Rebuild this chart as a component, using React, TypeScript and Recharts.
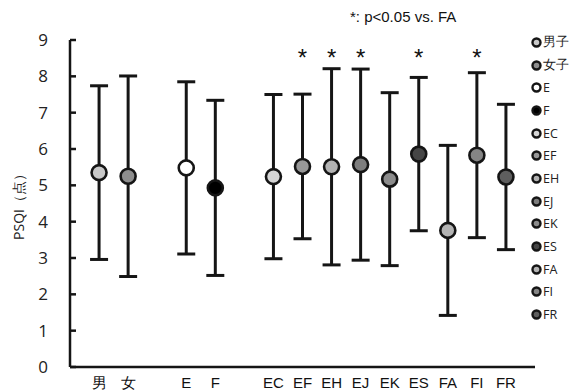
import React from 'react';
import {
  ScatterChart,
  Scatter,
  XAxis,
  YAxis,
  ErrorBar,
} from 'recharts';

// slot order on the x axis, '' = empty gap between groups
const slots = ['男', '女', '', 'E', 'F', '', 'EC', 'EF', 'EH', 'EJ', 'EK', 'ES', 'FA', 'FI', 'FR'];
const groups = ['男', '女', 'E', 'F', 'EC', 'EF', 'EH', 'EJ', 'EK', 'ES', 'FA', 'FI', 'FR'];
const legendNames = ['男子', '女子', 'E', 'F', 'EC', 'EF', 'EH', 'EJ', 'EK', 'ES', 'FA', 'FI', 'FR'];
const means = [5.35, 5.25, 5.48, 4.93, 5.24, 5.52, 5.51, 5.57, 5.17, 5.86, 3.76, 5.83, 5.23];
const sds = [2.39, 2.76, 2.37, 2.41, 2.26, 1.99, 2.7, 2.63, 2.38, 2.11, 2.34, 2.27, 2.0];
const fills = ['#c9c9c9', '#8e8e8e', '#ffffff', '#000000', '#d6d6d6', '#989898', '#b3b3b3', '#7d7d7d', '#8c8c8c', '#454545', '#b4b4b4', '#858585', '#5e5e5e'];
const starred = ['EF', 'EH', 'EJ', 'ES', 'FI'];
const yTicks = [0, 1, 2, 3, 4, 5, 6, 7, 8, 9];
const STAR_Y = 8.64;

const data = groups.map((g, i) => ({
  name: g,
  x: slots.indexOf(g),
  y: means[i],
  sd: sds[i],
  fill: fills[i],
}));

const starData = starred.map((g) => ({ x: slots.indexOf(g), y: STAR_Y }));

const Dot = (props: any) => {
  const { cx, cy, payload } = props;
  return <circle cx={cx} cy={cy} r={7.5} fill={payload.fill} stroke="#151515" strokeWidth={2.6} />;
};

const Star = (props: any) => (
  <text x={props.cx} y={props.cy + 13} textAnchor="middle" fontSize={24} fontFamily="Liberation Sans, Arial" fill="#111">
    *
  </text>
);

const YTick = (props: any) => {
  const { x, y, payload } = props;
  return (
    <g>
      <line x1={x} y1={y} x2={x + 6} y2={y} stroke="#151515" strokeWidth={2.5} />
      <text x={x - 22} y={y} dy={6} textAnchor="end" fontSize={17} fontFamily="Open Sans" fill="#222">
        {payload.value}
      </text>
    </g>
  );
};

const LegendBox = () => (
  <div style={{ position: 'absolute', left: 531, top: 31, fontFamily: 'Open Sans', fontSize: 12.5, color: '#222' }}>
    {legendNames.map((n, i) => (
      <div key={n} style={{ height: 22.7, display: 'flex', alignItems: 'center' }}>
        <svg width={11} height={11} style={{ marginRight: 1 }}>
          <circle cx={5.5} cy={5.5} r={4} fill={fills[i]} stroke="#151515" strokeWidth={2.4} />
        </svg>
        <span>{n}</span>
      </div>
    ))}
  </div>
);

export default function App() {
  return (
    <div style={{ position: 'absolute', left: 0, top: 0, width: 582, height: 391, background: '#fff' }}>
      <ScatterChart width={582} height={391} margin={{ top: 40, right: 47, bottom: 0, left: 0 }}>
        <XAxis
          type="number"
          dataKey="x"
          domain={[-1, 15]}
          ticks={data.map((d) => d.x)}
          tickFormatter={(v: number) => slots[v]}
          interval={0}
          tickLine={false}
          height={24}
          tickMargin={4}
          axisLine={{ stroke: '#151515', strokeWidth: 2.5 }}
          tick={{ fontSize: 15, fontFamily: 'Liberation Sans, Arial', fill: '#111' }}
        />
        <YAxis
          type="number"
          dataKey="y"
          domain={[0, 9]}
          ticks={yTicks}
          width={70}
          tickSize={0}
          tickMargin={0}
          tick={<YTick />}
          axisLine={{ stroke: '#151515', strokeWidth: 2.5 }}
          label={{
            value: 'PSQI（点）',
            angle: -90,
            position: 'insideLeft',
            offset: 19,
            style: { fontSize: 14, fontFamily: 'Open Sans', fill: '#222', textAnchor: 'middle' },
          }}
        />
        <Scatter data={data} dataKey="y" shape={<Dot />} isAnimationActive={false} legendType="none">
          <ErrorBar dataKey="sd" direction="y" width={9} strokeWidth={3} stroke="#151515" />
        </Scatter>
        <Scatter data={starData} dataKey="y" shape={<Star />} isAnimationActive={false} legendType="none" />
      </ScatterChart>
      <div
        style={{
          position: 'absolute',
          left: 350,
          top: 8,
          fontFamily: 'Liberation Sans, Arial',
          fontSize: 15,
          color: '#111',
        }}
      >
        *: p&lt;0.05 vs. FA
      </div>
      <LegendBox />
    </div>
  );
}
